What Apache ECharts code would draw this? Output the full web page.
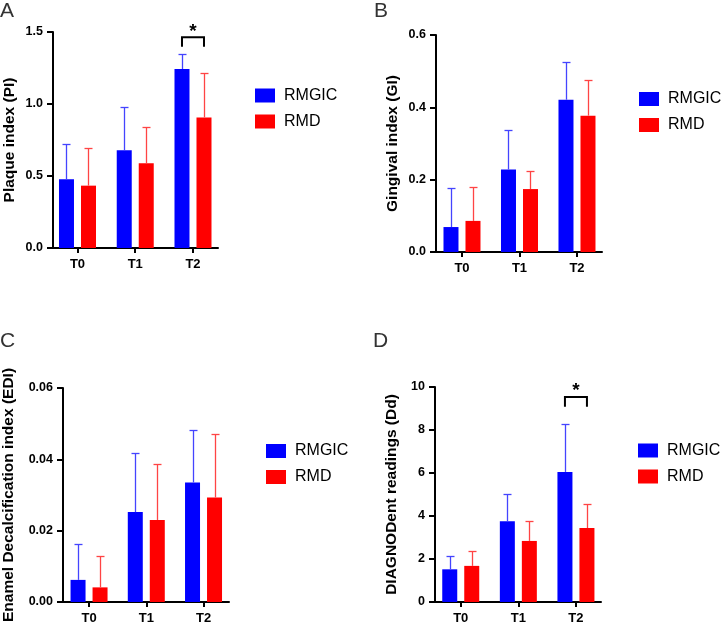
<!DOCTYPE html>
<html><head><meta charset="utf-8">
<script src="https://cdn.jsdelivr.net/npm/echarts@6/dist/echarts.min.js"></script>
<style>html,body{margin:0;padding:0;background:#fff}#c{width:721px;height:625px}</style>
</head><body><div id="c"></div>
<script>
const categories = ['T0', 'T1', 'T2'];
const groups = ['RMGIC', 'RMD'];

// Panel A: Plaque index (PI)
const piRMGIC = [0.477, 0.678, 1.243];
const piRMGICsd = [0.243, 0.299, 0.102];
const piRMD = [0.433, 0.588, 0.907];
const piRMDsd = [0.264, 0.250, 0.306];
// Panel B: Gingival index (GI)
const giRMGIC = [0.069, 0.228, 0.421];
const giRMGICsd = [0.107, 0.108, 0.103];
const giRMD = [0.086, 0.174, 0.377];
const giRMDsd = [0.095, 0.049, 0.099];
// Panel C: Enamel Decalcification index (EDI)
const ediRMGIC = [0.0062, 0.0252, 0.0335];
const ediRMGICsd = [0.0102, 0.0165, 0.0147];
const ediRMD = [0.0041, 0.0230, 0.0293];
const ediRMDsd = [0.0089, 0.0156, 0.0177];
// Panel D: DIAGNODent readings (Dd)
const ddRMGIC = [1.52, 3.76, 6.05];
const ddRMGICsd = [0.62, 1.26, 2.22];
const ddRMD = [1.68, 2.84, 3.44];
const ddRMDsd = [0.70, 0.92, 1.12];

// significance brackets: [category index, bracket level, tick end level]
const sigA = [2, 1.463, 1.398];
const sigD = [2, 9.54, 9.08];

const yTicksA = [0, 1.5, 0.5];
const yTicksB = [0, 0.6, 0.2];
const yTicksC = [0, 0.06, 0.02];
const yTicksD = [0, 10, 2];

const BLUE = '#0000ff', RED = '#ff0000';
const FONT = 'Liberation Sans, Arial, Helvetica, sans-serif';
const BAR_W = 15, BAR_GAP = 7;
const OFF = (BAR_W + BAR_GAP) / 2;

const panels = [
  {grid: {left: 53, top: 32, width: 165, height: 216}, xr: [-0.424, 2.433], yt: yTicksA, dec: 1,
   name: 'Plaque index (PI)', gap: 35, a: piRMGIC, asd: piRMGICsd, b: piRMD, bsd: piRMDsd, sig: sigA,
   legend: {left: 255, top: 87.5}, letter: ['A', 0, 1]},
  {grid: {left: 436, top: 35, width: 166, height: 217}, xr: [-0.452, 2.435], yt: yTicksB, dec: 1,
   name: 'Gingival index (GI)', gap: 35, a: giRMGIC, asd: giRMGICsd, b: giRMD, bsd: giRMDsd, sig: null,
   legend: {left: 639, top: 91}, letter: ['B', 374, 1]},
  {grid: {left: 62, top: 388, width: 167, height: 216}, xr: [-0.455, 2.445], yt: yTicksC, dec: 2,
   name: 'Enamel Decalcification index (EDI)', gap: 46, a: ediRMGIC, asd: ediRMGICsd, b: ediRMD, bsd: ediRMDsd, sig: null,
   legend: {left: 266, top: 443}, letter: ['C', 0, 331]},
  {grid: {left: 435, top: 387, width: 166, height: 217}, xr: [-0.447, 2.435], yt: yTicksD, dec: 0,
   name: 'DIAGNODent readings (Dd)', gap: 35, a: ddRMGIC, asd: ddRMGICsd, b: ddRMD, bsd: ddRMDsd, sig: sigD,
   legend: {left: 638, top: 442.5}, letter: ['D', 373, 331]}
];

function errRender(offset, color) {
  return function (params, api) {
    const x = api.value(0), m = api.value(1), e = api.value(2);
    const p0 = api.coord([x, m]);
    const p1 = api.coord([x, m + e]);
    const cx = Math.round(p0[0] + offset) + 0.5;
    const ty = Math.round(p1[1]) + 0.5;
    return {type: 'group', children: [
      {type: 'line', shape: {x1: cx, y1: p0[1], x2: cx, y2: ty}, style: {stroke: color, lineWidth: 1.3}},
      {type: 'line', shape: {x1: cx - 4, y1: ty, x2: cx + 4, y2: ty}, style: {stroke: color, lineWidth: 1.3}}
    ]};
  };
}
function sigRender(params, api) {
  const x = api.value(0), lv = api.value(1), te = api.value(2);
  const p = api.coord([x, lv]);
  const q = api.coord([x, te]);
  const x1 = p[0] - OFF, x2 = p[0] + OFF;
  return {type: 'group', children: [
    {type: 'polyline', shape: {points: [[x1, q[1]], [x1, p[1]], [x2, p[1]], [x2, q[1]]]},
     style: {stroke: '#000', lineWidth: 2, fill: null}},
    {type: 'text', x: p[0], y: p[1] - 6, style: {text: '*', fontSize: 19, fontWeight: 'bold', fontFamily: FONT,
     fill: '#000', align: 'center', verticalAlign: 'middle'}}
  ]};
}

const option = {animation: false, backgroundColor: '#fff', textStyle: {fontFamily: FONT},
  grid: [], xAxis: [], yAxis: [], series: [], legend: [], graphic: []};

panels.forEach((P, i) => {
  option.grid.push(Object.assign({containLabel: false}, P.grid));
  option.xAxis.push({type: 'value', gridIndex: i, min: P.xr[0], max: P.xr[1],
    axisLine: {show: true, onZero: false, lineStyle: {color: '#000', width: 2}},
    axisTick: {show: true, customValues: [0, 1, 2], length: 5, lineStyle: {color: '#000', width: 2}},
    axisLabel: {customValues: [0, 1, 2], formatter: v => categories[Math.round(v)], color: '#000',
      fontWeight: 'bold', fontSize: 13, margin: 10, fontFamily: FONT},
    splitLine: {show: false}});
  option.yAxis.push({type: 'value', gridIndex: i, min: P.yt[0], max: P.yt[1], interval: P.yt[2],
    name: P.name, nameLocation: 'middle', nameGap: P.gap,
    nameTextStyle: {fontSize: 15.5, fontWeight: 'bold', color: '#000', fontFamily: FONT},
    axisLine: {show: true, onZero: false, lineStyle: {color: '#000', width: 2}},
    axisTick: {show: true, length: 6, lineStyle: {color: '#000', width: 2}},
    axisLabel: {formatter: v => v.toFixed(P.dec), color: '#000', fontWeight: 'bold', fontSize: 12.5, margin: 10, fontFamily: FONT},
    splitLine: {show: false}});
  option.series.push(
    {type: 'bar', name: groups[0], xAxisIndex: i, yAxisIndex: i, barWidth: BAR_W, barGap: (BAR_GAP / BAR_W * 100) + '%',
     itemStyle: {color: BLUE}, data: P.a.map((v, k) => [k, v]), z: 2},
    {type: 'bar', name: groups[1], xAxisIndex: i, yAxisIndex: i, barWidth: BAR_W, barGap: (BAR_GAP / BAR_W * 100) + '%',
     itemStyle: {color: RED}, data: P.b.map((v, k) => [k, v]), z: 2},
    {type: 'custom', xAxisIndex: i, yAxisIndex: i, renderItem: errRender(-OFF, '#4444ff'),
     data: P.a.map((v, k) => [k, v, P.asd[k]]), z: 3, silent: true},
    {type: 'custom', xAxisIndex: i, yAxisIndex: i, renderItem: errRender(OFF, '#ff4444'),
     data: P.b.map((v, k) => [k, v, P.bsd[k]]), z: 3, silent: true}
  );
  if (P.sig) {
    option.series.push({type: 'custom', xAxisIndex: i, yAxisIndex: i, renderItem: sigRender, clip: false,
      data: [P.sig], z: 4, silent: true});
  }
  option.legend.push({data: groups, orient: 'vertical', left: P.legend.left, top: P.legend.top,
    padding: 0, itemWidth: 20, itemHeight: 14, itemGap: 10, icon: 'rect',
    textStyle: {fontSize: 16, color: '#000', fontFamily: FONT, lineHeight: 14, padding: [0, 0, 0, 4]},
    selectedMode: false});
  option.graphic.push({type: 'text', left: P.letter[1], top: P.letter[2],
    style: {text: P.letter[0], fontSize: 21, fill: '#333', fontFamily: FONT}});
});

const chart = echarts.init(document.getElementById('c'), null, {renderer: 'canvas'});
chart.setOption(option);
</script></body></html>
